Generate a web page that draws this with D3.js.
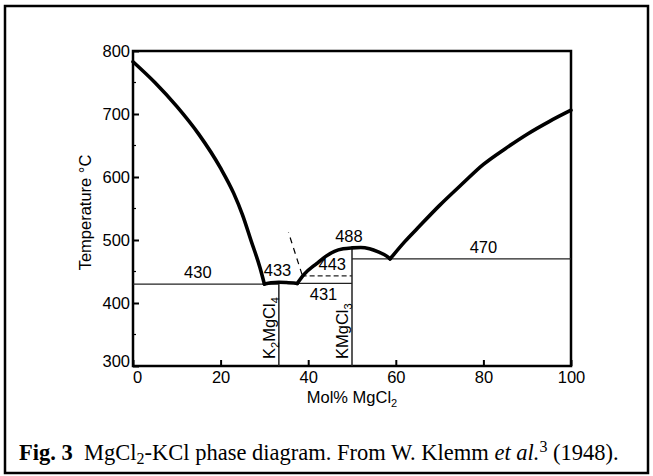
<!DOCTYPE html>
<html>
<head>
<meta charset="utf-8">
<script src="https://cdn.jsdelivr.net/npm/d3@7/dist/d3.min.js"></script>
<style>
  html, body { margin: 0; padding: 0; background: #fff; }
  svg { display: block; }
  .sans { font-family: "Liberation Sans", Arial, Helvetica, sans-serif; }
  .serif { font-family: "Liberation Serif", "Times New Roman", serif; }
</style>
</head>
<body>
<svg id="chart" width="653" height="476"></svg>
<script>
// Liquidus branches of the MgCl2–KCl system (mol% MgCl2, °C)
const liquidusKCl = [[0,783],[5,750],[10,712],[15,668],[20,614],[23,574],[25,540],[27,498],[29,456],[30,430]];
const liquidusK2MgCl4 = [[30,430],[31.5,432],[33.3,433],[35,432.5],[37.5,431]];
const liquidusKMgCl3 = [[37.5,431],[39,445],[42,463],[44,474],[46,482],[48,486],[50,487.5],[52,488],[54,486],[56,481],[58,474],[58.7,470]];
const liquidusMgCl2 = [[58.7,470],[62,497],[65,519],[70,555],[75,588],[80,620],[85,645],[90,668],[95,688],[100,706]];

// Invariant (horizontal) lines
const isotherms = [
  { x0: 0, x1: 33.3, t: 430 },
  { x0: 33.3, x1: 50, t: 431 },
  { x0: 50, x1: 100, t: 470 }
];
const dashedIsotherm = [{ x0: 38.5, x1: 50, t: 443 }];

// Compound lines
const compounds = [
  { x: 33.3, t: 431, label: ["K", "2", "MgCl", "4"] },
  { x: 50, t: 487.5, label: ["KMgCl", "3"] }
];

// Temperature labels
const tempLabels = [
  { x: 14.8, t: 430, text: "430" },
  { x: 33, t: 433, text: "433" },
  { x: 45.5, t: 443, text: "443" },
  { x: 49.3, t: 488, text: "488" },
  { x: 80, t: 470, text: "470" },
  { x: 43.5, t: 431, text: "431", below: true }
];

const xTicks = [0, 20, 40, 60, 80, 100];
const yTicks = [300, 400, 500, 600, 700, 800];
const yMinorTicks = [350, 450, 550, 650, 750];

const FS = 16.5;

const svg = d3.select("#chart");

// outer figure frame
svg.append("rect")
  .attr("x", 5).attr("y", 6).attr("width", 643).attr("height", 467)
  .attr("fill", "none").attr("stroke", "#000").attr("stroke-width", 2.5);

const plot = { left: 133, right: 571, top: 51, bottom: 366 };
const x = d3.scaleLinear().domain([0, 100]).range([plot.left, plot.right]);
const y = d3.scaleLinear().domain([300, 800]).range([plot.bottom, plot.top]);

const g = svg.append("g").attr("class", "sans");

// axes with inward ticks
const xAxis = d3.axisBottom(x).tickValues(xTicks).tickSize(-6).tickPadding(4).tickFormat(d3.format("d"));
const yAxis = d3.axisLeft(y).tickValues(yTicks).tickSize(-6).tickPadding(3).tickFormat(d3.format("d"));

const gx = g.append("g").attr("transform", `translate(0,${plot.bottom})`).call(xAxis);
const gy = g.append("g").attr("transform", `translate(${plot.left},0)`).call(yAxis);
[gx, gy].forEach(a => {
  a.select(".domain").remove();
  a.selectAll(".tick line").attr("stroke", "#000").attr("stroke-width", 2);
  a.selectAll(".tick text").attr("fill", "#000").attr("font-size", FS);
});
// 300 label sits level with the axis, 0 label sits slightly right
gy.selectAll(".tick text").filter(d => d === 300).attr("dy", "0.05em");
gx.selectAll(".tick text").filter(d => d === 0).attr("dx", "0.25em");
gx.selectAll(".tick text").attr("dy", "0.8em");

// minor y ticks
g.append("g").selectAll("line").data(yMinorTicks).join("line")
  .attr("x1", plot.left).attr("x2", plot.left + 3)
  .attr("y1", d => y(d)).attr("y2", d => y(d))
  .attr("stroke", "#000").attr("stroke-width", 1.2);

// plot frame
g.append("rect")
  .attr("x", plot.left).attr("y", plot.top)
  .attr("width", plot.right - plot.left).attr("height", plot.bottom - plot.top)
  .attr("fill", "none").attr("stroke", "#000").attr("stroke-width", 2.5);

// axis titles
g.append("text")
  .attr("transform", `translate(91,${(plot.top + plot.bottom) / 2 + 4}) rotate(-90)`)
  .attr("text-anchor", "middle").attr("font-size", FS)
  .text("Temperature \u00B0C");

const xt = g.append("text")
  .attr("x", x(50)).attr("y", 403)
  .attr("text-anchor", "middle").attr("font-size", FS);
xt.append("tspan").text("Mol% MgCl");
xt.append("tspan").attr("font-size", 11).attr("dy", 4).text("2");

// invariant lines
g.append("g").selectAll("line").data(isotherms).join("line")
  .attr("x1", d => x(d.x0)).attr("x2", d => x(d.x1))
  .attr("y1", d => y(d.t)).attr("y2", d => y(d.t))
  .attr("stroke", "#222").attr("stroke-width", 1.3);

g.append("g").selectAll("line").data(dashedIsotherm).join("line")
  .attr("x1", d => x(d.x0)).attr("x2", d => x(d.x1))
  .attr("y1", d => y(d.t)).attr("y2", d => y(d.t))
  .attr("stroke", "#222").attr("stroke-width", 1.2)
  .attr("stroke-dasharray", "5,3");

// compound vertical lines
g.append("g").selectAll("line").data(compounds).join("line")
  .attr("x1", d => x(d.x)).attr("x2", d => x(d.x))
  .attr("y1", d => y(d.t)).attr("y2", y(300))
  .attr("stroke", "#222").attr("stroke-width", 1.5);

// compound labels (rotated)
compounds.forEach(c => {
  const t = g.append("text")
    .attr("transform", `translate(${x(c.x) - 4},${y(300) - 7}) rotate(-90)`)
    .attr("text-anchor", "start").attr("font-size", FS);
  c.label.forEach((s, i) => {
    const sub = i % 2 === 1;
    t.append("tspan").attr("font-size", sub ? 11 : FS)
      .attr("dy", sub ? 4 : (i === 0 ? 0 : -4)).text(s);
  });
});

// liquidus curves
const line = d3.line().x(d => x(d[0])).y(d => y(d[1])).curve(d3.curveMonotoneX);
[liquidusKCl, liquidusK2MgCl4, liquidusKMgCl3, liquidusMgCl2].forEach(seg => {
  g.append("path").attr("d", line(seg))
    .attr("fill", "none").attr("stroke", "#000")
    .attr("stroke-width", 3.6).attr("stroke-linejoin", "round").attr("stroke-linecap", "round");
});

// metastable extension (dashed) near the second eutectic
const metastable = [[38.6, 445], [35.5, 512]];
g.append("path").attr("d", d3.line().x(d => x(d[0])).y(d => y(d[1]))(metastable))
  .attr("fill", "none").attr("stroke", "#000").attr("stroke-width", 1.2)
  .attr("stroke-dasharray", "6,5");

// temperature labels
g.append("g").selectAll("text").data(tempLabels).join("text")
  .attr("x", d => x(d.x))
  .attr("y", d => d.below ? y(d.t) + 17 : y(d.t) - 6)
  .attr("text-anchor", "middle").attr("font-size", FS)
  .text(d => d.text);

// caption
const cap = svg.append("text").attr("class", "serif")
  .attr("x", 19).attr("y", 460).attr("font-size", 22.5);
cap.append("tspan").attr("font-weight", "bold").text("Fig. 3");
cap.append("tspan").text("\u2002MgCl");
cap.append("tspan").attr("font-size", 16).attr("dy", 4).text("2");
cap.append("tspan").attr("dy", -4).text("-KCl phase diagram. From W. Klemm ");
cap.append("tspan").attr("font-style", "italic").text("et al.");
cap.append("tspan").attr("font-size", 16).attr("dy", -8).text("3");
cap.append("tspan").attr("dy", 8).text(" (1948).");
</script>
</body>
</html>
